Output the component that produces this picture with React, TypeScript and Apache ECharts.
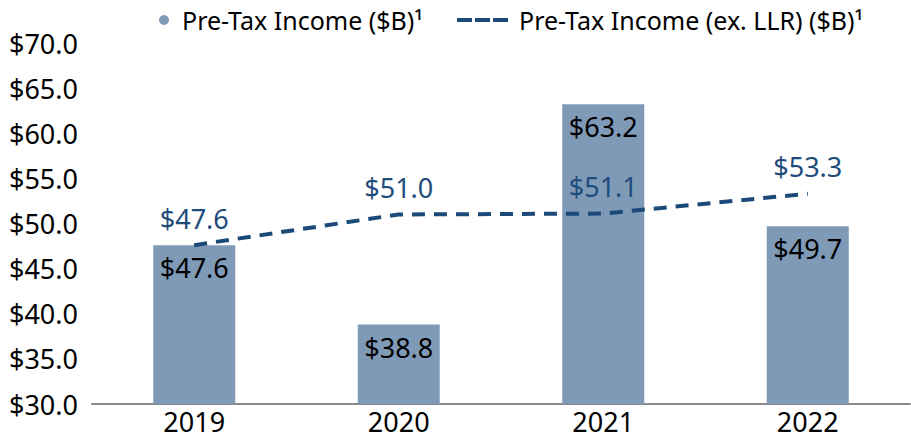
import React, { useEffect, useRef } from "react";
import * as echarts from "echarts";

const categories = ["2019", "2020", "2021", "2022"];
const preTaxIncome = [47.6, 38.8, 63.2, 49.7];
const preTaxExLLR = [47.6, 51.0, 51.1, 53.3];
const yMin = 30;
const yMax = 70;
const yInterval = 5;
const seriesNames = ["Pre-Tax Income ($B)¹", "Pre-Tax Income (ex. LLR) ($B)¹"];

const FONT = "'Noto Sans', 'Open Sans', sans-serif";
const BAR_COLOR = "#7f9ab7";
const LINE_COLOR = "#1b4a78";

export default function App() {
  const ref = useRef<HTMLDivElement>(null);
  useEffect(() => {
    document.body.style.margin = "0";
    if (!ref.current) return;
    const chart = echarts.init(ref.current, undefined, { renderer: "svg" });
    chart.setOption({
      animation: false,
      textStyle: { fontFamily: FONT },
      grid: { left: 92, right: 1, top: 43, bottom: 32, containLabel: false },
      legend: [
        {
          data: [{ name: seriesNames[0], icon: "circle" }],
          left: 154,
          top: 1,
          itemWidth: 26,
          itemHeight: 10,
          textStyle: { fontSize: 25, lineHeight: 28, color: "#000", fontFamily: FONT },
          selectedMode: false,
        },
        {
          data: [
            {
              name: seriesNames[1],
              icon: "path://M0,0h15v4h-15z M18,0h15v4h-15z M36,0h15v4h-15z",
              itemStyle: { color: LINE_COLOR },
            },
          ],
          left: 452,
          top: 1,
          itemWidth: 51,
          itemHeight: 4,
          textStyle: {
            fontSize: 25,
            lineHeight: 28,
            color: "#000",
            fontFamily: FONT,
            padding: [0, 0, 0, 6],
          },
          selectedMode: false,
        },
      ],
      xAxis: {
        type: "category",
        data: categories,
        axisLine: { show: true, lineStyle: { color: "#8a8a8a", width: 2 } },
        axisTick: { show: false },
        axisLabel: {
          color: "#000",
          fontSize: 27,
          lineHeight: 26,
          margin: 4,
          fontFamily: FONT,
        },
      },
      yAxis: {
        type: "value",
        min: yMin,
        max: yMax,
        interval: yInterval,
        splitLine: { show: false },
        axisLine: { show: false },
        axisTick: { show: false },
        axisLabel: {
          color: "#000",
          fontSize: 27,
          margin: 14,
          fontFamily: FONT,
          formatter: (v: number) => "$" + v.toFixed(1),
        },
      },
      series: [
        {
          name: seriesNames[0],
          type: "bar",
          data: preTaxIncome,
          barWidth: 82,
          itemStyle: { color: BAR_COLOR },
          label: {
            show: true,
            position: "insideTop",
            distance: 9,
            color: "#000",
            fontSize: 27,
            fontFamily: FONT,
            formatter: (p: any) => "$" + Number(p.value).toFixed(1),
          },
          z: 2,
        },
        {
          name: seriesNames[1],
          type: "line",
          data: preTaxExLLR,
          symbol: "circle",
          symbolSize: 1,
          itemStyle: { color: LINE_COLOR },
          lineStyle: { color: LINE_COLOR, width: 4, type: [13, 9] },
          label: {
            show: true,
            position: "top",
            distance: 13,
            color: "#1e4c7b",
            fontSize: 27,
            fontFamily: FONT,
            formatter: (p: any) => "$" + Number(p.value).toFixed(1),
          },
          z: 3,
        },
      ],
    });
    return () => chart.dispose();
  }, []);
  return <div ref={ref} style={{ width: 911, height: 436 }} />;
}
